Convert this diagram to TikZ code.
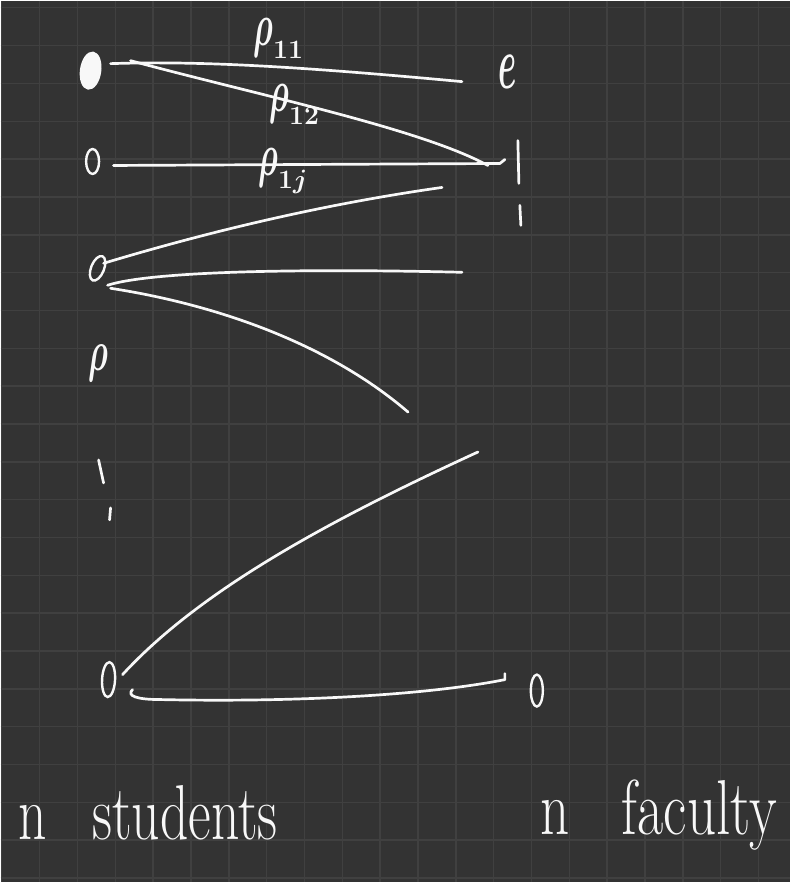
\documentclass[tikz,border=0pt]{standalone}
\usepackage{fix-cm}
\usetikzlibrary{shapes.geometric,calc}

\definecolor{board}{RGB}{51,51,51}
\definecolor{gridgray}{RGB}{64,64,64}
\definecolor{chalk}{RGB}{248,248,248}

\tikzset{
  gridline/.style={draw=gridgray, line width=1.5pt},
  pen/.style={draw=chalk, line width=2.7pt, line cap=round, line join=round},
  ring/.style={ellipse, draw=chalk, line width=2.4pt, inner sep=0pt},
  scrawl/.style={text=chalk, inner sep=0pt},
}

\newcommand{\hrho}[1]{$\scalebox{0.85}[1.6]{$\rho$}_{#1}$}

\begin{document}
\begin{tikzpicture}[x=1pt, y=-1pt]
  % ---- board ----
  \fill[board] (0,0) rectangle (791,883);
  \foreach \i in {0,...,20} \draw[gridline] ({1+37.9*\i},0) -- ({1+37.9*\i},883);
  \foreach \j in {0,...,23} \draw[gridline] (0,{7+37.9*\j}) -- (791,{7+37.9*\j});
  \useasboundingbox (0,0) rectangle (791,883);

  % ---- students (left) ----
  \node[ring, fill=chalk, minimum width=19pt, minimum height=36pt, rotate=-8] (s1) at (90,70) {};
  \node[ring, minimum width=13pt, minimum height=25pt] (s2) at (92,161) {};
  \node[ring, minimum width=13pt, minimum height=26pt, rotate=-22] (s3) at (97,268) {};
  \node[scrawl, anchor=base, font=\fontsize{36}{36}\selectfont\boldmath] (s4) at (98,370) {\scalebox{0.9}[1.6]{$\rho$}};
  \node[ring, minimum width=13pt, minimum height=35pt, rotate=-3] (sn) at (108,680) {};
  \draw[pen] (98,460) -- (103,483);
  \draw[pen] (110,508) -- (109,520);

  % ---- faculty (right) ----
  \node[scrawl, anchor=base, font=\fontsize{44}{44}\selectfont\boldmath] (f1) at (508,88) {\scalebox{0.75}[1.7]{$e$}};
  \coordinate (f2) at (518,162);
  \draw[pen] (518,140) -- (519,183);
  \draw[pen] (520,205) -- (521,225);
  \node[ring, minimum width=12pt, minimum height=32pt] (fn) at (537,691) {};

  % ---- free ends ----
  \coordinate (e1) at (462,81);
  \coordinate (e4) at (442,187);
  \coordinate (e5) at (462,272);
  \coordinate (e6) at (408,412);
  \coordinate (e7) at (478,452);

  % ---- pairings ----
  \draw[pen] ($(s1)+(20,-7)$) .. controls (200,60) and (300,66) .. (e1);
  \draw[pen] ($(s1)+(40,-10)$) .. controls (260,95) and (420,128) .. ($(f2)+(-30,3)$);
  \draw[pen] ($(s2)+(21,4)$) -- ($(f2)+(-18,1)$) -- ($(f2)+(-13,-3)$);
  \draw[pen] (e4) .. controls (329,203) and (216,229) .. ($(s3)+(6,-5)$);
  \draw[pen] ($(s3)+(10,17)$) .. controls (150,271) and (300,268) .. (e5);
  \draw[pen] ($(s3)+(13,20)$) .. controls (220,305) and (330,345) .. (e6);
  \draw[pen] ($(sn)+(14,-5)$) .. controls (200,590) and (330,520) .. (e7);
  \draw[pen] ($(sn)+(24,10)$) .. controls (126,696) and (135,700) .. (160,700)
    .. controls (300,703) and (430,695) .. ($(fn)+(-32,-11)$) -- ($(fn)+(-32,-17)$);

  % ---- labels ----
  \begin{scope}[every node/.style={scrawl, anchor=base west, font=\fontsize{38}{38}\selectfont\boldmath}]
    \node (p11) at (253,45) {\hrho{11}};
    \node (p12) at (269,111) {\hrho{12}};
    \node (p1j) at (258,175) {\hrho{1j}};
  \end{scope}
  \node[scrawl, anchor=base west, font=\fontsize{52}{52}\selectfont] (students) at (18,840)
    {\scalebox{1.07}[1.5]{n\hspace{42pt}students}};
  \node[scrawl, anchor=base west, font=\fontsize{52}{52}\selectfont] (faculty) at (540,835)
    {\scalebox{1.1}[1.5]{n\hspace{48pt}faculty}};
\end{tikzpicture}
\end{document}
